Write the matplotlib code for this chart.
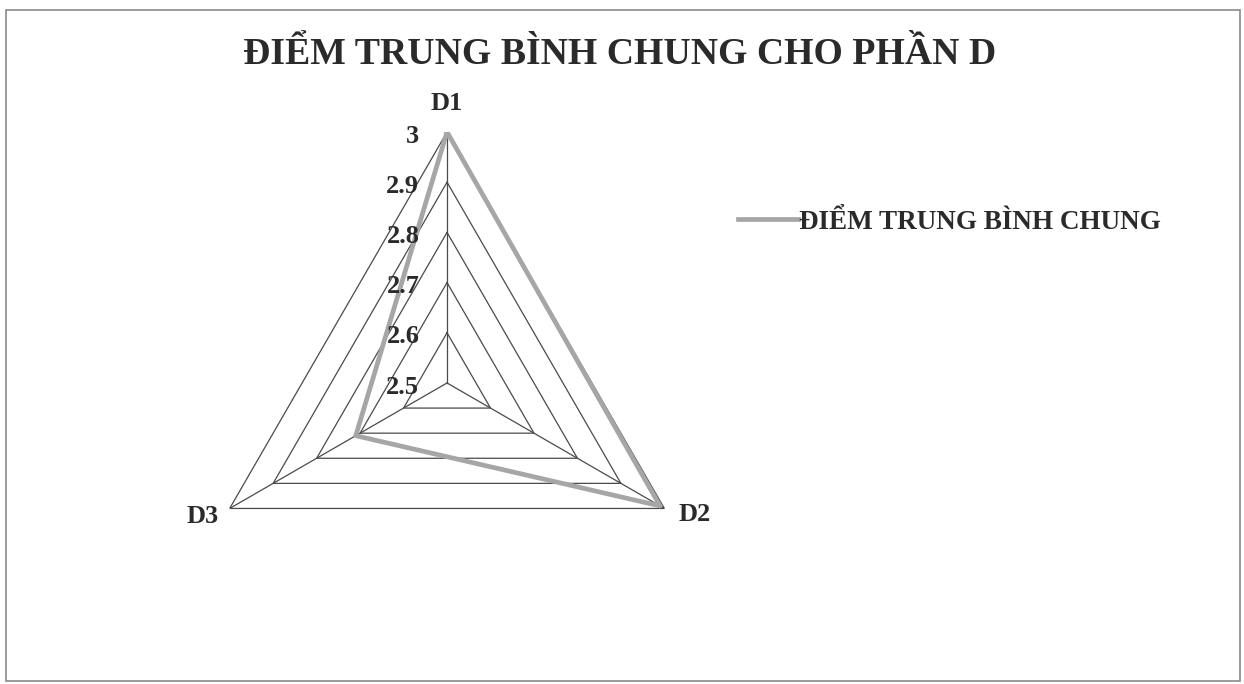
import numpy as np
import matplotlib
matplotlib.use("Agg")
import matplotlib.pyplot as plt
from matplotlib.patches import Rectangle

plt.rcParams['font.family'] = ['Liberation Serif', 'DejaVu Serif']

categories = ["D1", "D2", "D3"]
values = [3.0, 2.99, 2.71]
rings = [2.6, 2.7, 2.8, 2.9, 3.0]
tick_values = [2.5, 2.6, 2.7, 2.8, 2.9, 3.0]
tick_labels = ["2.5", "2.6", "2.7", "2.8", "2.9", "3"]
series_name = "ĐIỂM TRUNG BÌNH CHUNG"
title = "ĐIỂM TRUNG BÌNH CHUNG CHO PHẦN D"

rmin, rmax = 2.5, 3.0
grid_color = "#4a4a4a"
series_color = "#a6a6a6"
text_color = "#2a2a2a"

fig = plt.figure(figsize=(12.44, 6.84), dpi=100)
ax = fig.add_axes([0.1576, 0.0731, 0.4035, 0.734], projection="polar")
ax.set_theta_offset(np.pi / 2)
ax.set_theta_direction(-1)
ax.set_ylim(rmin, rmax)
ax.grid(False)
ax.spines["polar"].set_visible(False)
ax.set_xticks([])
ax.set_yticks([])
ax.patch.set_alpha(0)

n = len(categories)
angles = np.arange(n) * 2 * np.pi / n
closed = np.append(angles, angles[0])

# polygon rings
for r in rings:
    ax.plot(closed, [r] * (n + 1), color=grid_color, lw=0.9, zorder=1)
# spokes
for a in angles:
    ax.plot([a, a], [rmin, rmax], color=grid_color, lw=0.9, zorder=1)

# series
ax.plot(closed, values + [values[0]], color=series_color, lw=3.4, zorder=3,
        label=series_name)

# radial tick labels
for v, lab in zip(tick_values, tick_labels):
    ax.annotate(lab, xy=(0, v), xytext=(-20, -3), textcoords="offset points",
                ha="right", va="center", fontsize=19, fontweight="bold",
                color=text_color, zorder=4)

# category labels
ax.annotate(categories[0], xy=(angles[0], rmax), xytext=(0, 12),
            textcoords="offset points", ha="center", va="bottom",
            fontsize=19, fontweight="bold", color=text_color)
ax.annotate(categories[1], xy=(angles[1], rmax), xytext=(10, -4),
            textcoords="offset points", ha="left", va="center",
            fontsize=19, fontweight="bold", color=text_color)
ax.annotate(categories[2], xy=(angles[2], rmax), xytext=(-8, -6),
            textcoords="offset points", ha="right", va="center",
            fontsize=19, fontweight="bold", color=text_color)

fig.text(0.498, 0.921, title, ha="center", va="center", fontsize=27.2,
         fontweight="bold", color=text_color)

leg = fig.legend(loc="center left", bbox_to_anchor=(0.574, 0.675),
                 frameon=False, handlelength=2.2, handletextpad=0.05,
                 prop={"size": 19.5, "weight": "bold"})
for t in leg.get_texts():
    t.set_color(text_color)

fig.patches.append(Rectangle((0.005, 0.004), 0.992, 0.982,
                             transform=fig.transFigure, fill=False,
                             edgecolor="#8a8a8a", lw=1.2))

fig.savefig("out.png", dpi=100)
